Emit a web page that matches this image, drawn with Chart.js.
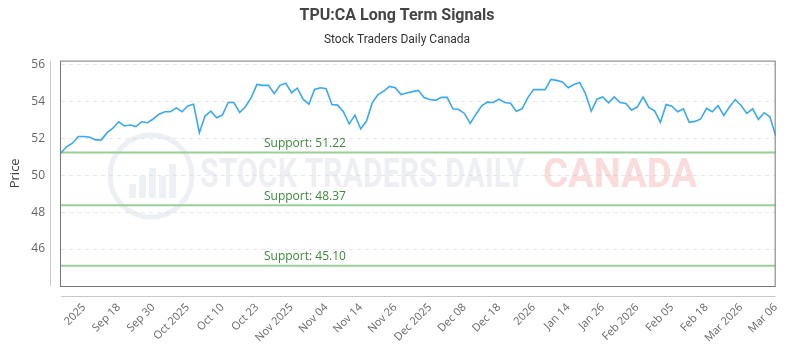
<!DOCTYPE html>
<html><head><meta charset="utf-8">
<script src="https://cdn.jsdelivr.net/npm/chart.js@4.4.1/dist/chart.umd.min.js"></script>
<style>html,body{margin:0;padding:0;background:#fff}#wrap{width:800px;height:350px}</style>
</head><body><div id="wrap"><canvas id="c" width="800" height="350"></canvas></div>
<script>
const prices = [
  51.20, 51.55, 51.73, 52.09, 52.09, 52.05, 51.91, 51.91, 52.30, 52.54, 52.89, 52.66, 52.71, 52.63, 52.89, 52.84, 53.04, 53.30, 53.43, 53.43, 53.64,
  53.43, 53.75, 53.84, 52.30, 53.20, 53.46, 53.11, 53.25, 53.93, 53.93, 53.39, 53.70, 54.20, 54.91, 54.86, 54.86, 54.41, 54.86, 54.98, 54.46,
  54.71, 54.11, 53.84, 54.64, 54.73, 54.68, 53.82, 53.79, 53.43, 52.77, 53.25, 52.50, 52.93, 53.91, 54.36, 54.55, 54.80, 54.73, 54.36, 54.45, 54.52,
  54.59, 54.20, 54.09, 54.05, 54.21, 54.21, 53.59, 53.55, 53.34, 52.80, 53.30, 53.75, 53.95, 53.93, 54.11, 53.93, 53.89, 53.46, 53.59, 54.20,
  54.63, 54.63, 54.63, 55.18, 55.13, 55.04, 54.73, 54.91, 55.02, 54.41, 53.46, 54.11, 54.23, 53.91, 54.23, 53.93, 53.88, 53.52, 53.70, 54.23, 53.67,
  53.48, 52.86, 53.82, 53.73, 53.43, 53.59, 52.86, 52.91, 53.04, 53.61, 53.43, 53.77, 53.23, 53.70, 54.09, 53.77, 53.34, 53.59, 53.02, 53.38, 53.16, 52.13
];
const tickIndex = [4, 10, 16, 22, 28, 34, 40, 46, 52, 58, 64, 70, 76, 82, 88, 94, 100, 106, 112, 118, 124];
const tickLabels = ["2025","Sep 18","Sep 30","Oct 2025","Oct 10","Oct 23","Nov 2025","Nov 04","Nov 14","Nov 26",
  "Dec 2025","Dec 08","Dec 18","2026","Jan 14","Jan 26","Feb 2026","Feb 05","Feb 18","Mar 2026","Mar 06"];
const supportLevels = [51.22, 48.37, 45.10];
const yTicks = [46, 48, 50, 52, 54, 56];
const yMin = 44, yMax = 56.2;

const lastIdx = prices.length - 1;

const framePlugin = {
  id: 'frame',
  beforeDatasetsDraw(chart) {
    const {ctx, chartArea: a} = chart;
    ctx.save();
    // watermark
    const cx = a.left + 90, cy = 176;
    ctx.strokeStyle = 'rgba(200,210,225,0.35)';
    ctx.lineWidth = 5;
    ctx.beginPath(); ctx.arc(cx, cy, 41, 0, Math.PI * 2); ctx.stroke();
    ctx.fillStyle = 'rgba(200,210,225,0.32)';
    [[-22, 14], [-12, 22], [-2, 30], [8, 22], [18, 34]].forEach(([dx, h]) => {
      ctx.fillRect(cx + dx, cy + 22 - h, 7, h);
    });
    ctx.font = 'bold 40px Roboto';
    ctx.textBaseline = 'middle';
    ctx.textAlign = 'left';
    const t1 = 'STOCK TRADERS DAILY';
    const w1 = ctx.measureText(t1).width;
    ctx.save();
    ctx.translate(200, 177);
    ctx.scale(325 / w1, 1);
    ctx.fillStyle = 'rgba(205,212,222,0.36)';
    ctx.fillText(t1, 0, 0);
    ctx.restore();
    const t2 = 'CANADA';
    const w2 = ctx.measureText(t2).width;
    ctx.save();
    ctx.translate(543, 177);
    ctx.scale(154 / w2, 1);
    ctx.fillStyle = 'rgba(240,150,150,0.33)';
    ctx.fillText(t2, 0, 0);
    ctx.restore();
    ctx.restore();
  },
  afterDatasetsDraw(chart) {
    const {ctx, chartArea: a, scales} = chart;
    ctx.save();
    ctx.font = '12px "Open Sans"';
    ctx.fillStyle = '#3b8a3b';
    ctx.textAlign = 'left';
    ctx.textBaseline = 'middle';
    supportLevels.forEach(v => {
      const y = scales.y.getPixelForValue(v);
      ctx.fillText('Support: ' + v.toFixed(2), a.left + 203, y - 9);
    });
    // plot frame
    ctx.strokeStyle = '#777';
    ctx.lineWidth = 1;
    ctx.strokeRect(a.left - 0.5, a.top + 0.5, a.right - a.left, a.bottom - a.top);
    // offset axis lines
    ctx.strokeStyle = '#c8c8c8';
    ctx.beginPath();
    ctx.moveTo(a.left - 10.5, a.top);
    ctx.lineTo(a.left - 10.5, a.bottom);
    ctx.moveTo(a.left, a.bottom + 10.5);
    ctx.lineTo(a.right, a.bottom + 10.5);
    ctx.stroke();
    ctx.restore();
  }
};

const datasets = [{
  data: prices.map((v, i) => ({x: i, y: v})),
  borderColor: '#38a9f5',
  borderWidth: 1.6,
  pointRadius: 0,
  tension: 0,
  order: 0
}];
supportLevels.forEach(v => datasets.push({
  data: [{x: 0, y: v}, {x: lastIdx, y: v}],
  borderColor: '#98d098',
  borderWidth: 2,
  pointRadius: 0,
  order: 1
}));

new Chart(document.getElementById('c'), {
  type: 'line',
  data: {datasets},
  plugins: [framePlugin],
  options: {
    responsive: false,
    animation: false,
    layout: {padding: {left: 4, right: 10, top: 0, bottom: 0}},
    plugins: {
      legend: {display: false},
      tooltip: {enabled: false},
      title: {display: true, text: 'TPU:CA Long Term Signals', color: '#444',
        font: {family: 'Roboto', size: 16, weight: 'bold'}, padding: {top: 6, bottom: 8}},
      subtitle: {display: true, text: 'Stock Traders Daily Canada', color: '#333',
        font: {family: 'Roboto', size: 12}, padding: {bottom: 13}}
    },
    scales: {
      x: {
        type: 'linear', min: 0, max: lastIdx,
        afterBuildTicks: s => { s.ticks = tickIndex.map(v => ({value: v})); },
        afterFit: s => { s.height = 64; },
        ticks: {
          autoSkip: false, minRotation: 45, maxRotation: 45, padding: 15,
          color: '#666', font: {family: 'Open Sans', size: 11},
          callback: v => tickLabels[tickIndex.indexOf(v)]
        },
        grid: {display: false, drawTicks: false},
        border: {display: false}
      },
      y: {
        min: yMin, max: yMax,
        afterBuildTicks: s => { s.ticks = yTicks.map(v => ({value: v})); },
        afterFit: s => { s.width = 57; },
        ticks: {padding: 16, color: '#666', font: {family: 'Open Sans', size: 12}},
        grid: {color: '#e8e8e8', drawTicks: false},
        border: {display: false, dash: [4, 4]},
        title: {display: true, text: 'Price', color: '#444', font: {family: 'Open Sans', size: 13}, padding: {top: 3, bottom: 0}}
      }
    }
  }
});
</script></body></html>
